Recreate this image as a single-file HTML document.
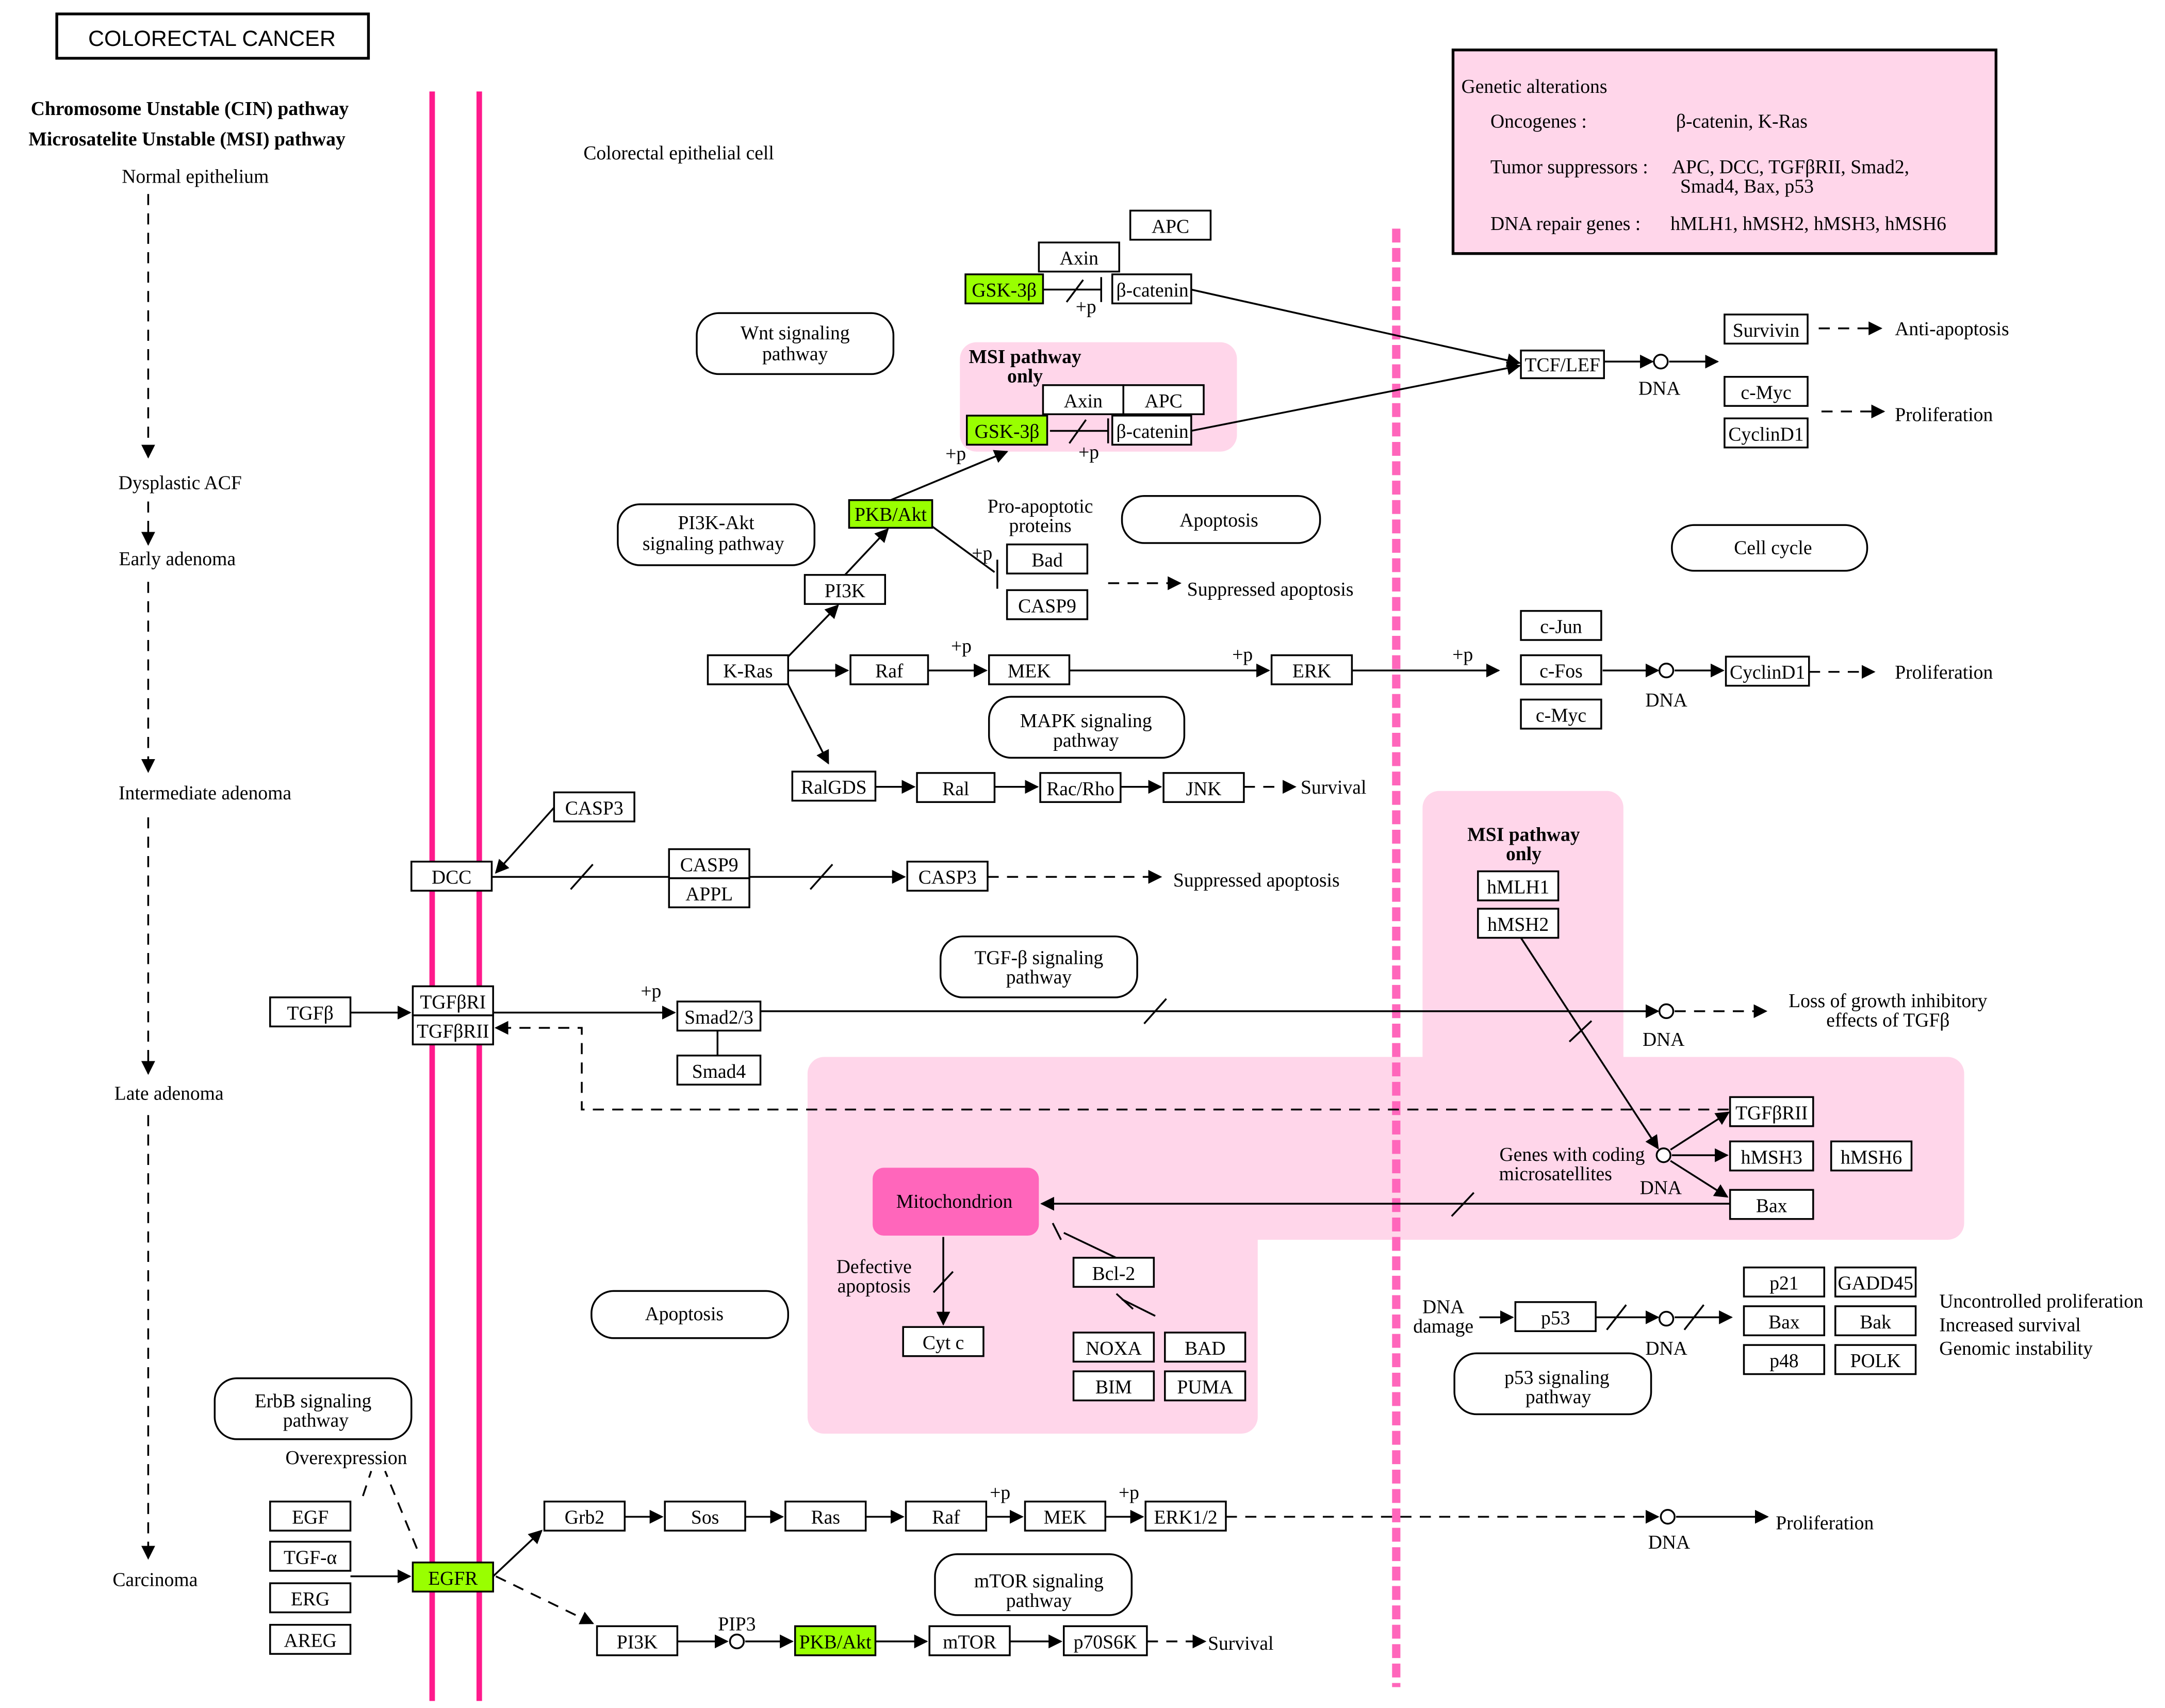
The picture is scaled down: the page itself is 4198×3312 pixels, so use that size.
<!DOCTYPE html>
<html><head><meta charset="utf-8"><style>
html,body{margin:0;padding:0;background:#fff;}
svg{display:block;}
text{font-family:"Liberation Serif",serif;font-size:14px;fill:#000;}
.b rect{fill:#fff;stroke:#000;stroke-width:1.3;}
.g{fill:#99ff00 !important;}
.r{fill:#fff;stroke:#000;stroke-width:1.3;}
.l{stroke:#000;stroke-width:1.3;fill:none;}
.d{stroke:#000;stroke-width:1.3;fill:none;stroke-dasharray:8,6;}
</style></head><body>
<svg width="4198" height="3312" viewBox="0 0 1563 1233" xmlns="http://www.w3.org/2000/svg">
<defs>
<marker id="a" markerWidth="10" markerHeight="10" refX="9" refY="5" orient="auto" markerUnits="userSpaceOnUse"><path d="M0,0 L10,5 L0,10 z" fill="#000"/></marker>
</defs>
<rect width="1563" height="1233" fill="#fff"/>
<!-- pink regions -->
<g fill="#ffd6ea">
<rect x="693" y="247" width="200" height="79" rx="12"/>
<rect x="1027" y="571" width="145" height="210" rx="12"/>
<rect x="583" y="763" width="835" height="132" rx="12"/>
<rect x="583" y="850" width="325" height="185" rx="12"/>
</g>
<rect x="1049" y="36" width="392" height="147" fill="#ffd6ea" stroke="#000" stroke-width="2"/>
<text x="1055" y="67">Genetic alterations</text>
<text x="1076" y="92">Oncogenes :</text><text x="1210" y="92">β-catenin, K-Ras</text>
<text x="1076" y="125">Tumor suppressors :</text><text x="1207" y="125">APC, DCC, TGFβRII, Smad2,</text><text x="1213" y="139">Smad4, Bax, p53</text>
<text x="1076" y="166">DNA repair genes :</text><text x="1206" y="166">hMLH1, hMSH2, hMSH3, hMSH6</text>
<!-- membranes -->
<line x1="312" y1="66" x2="312" y2="1228" stroke="#ff1a8c" stroke-width="4"/>
<line x1="346" y1="66" x2="346" y2="1228" stroke="#ff1a8c" stroke-width="4"/>
<line x1="1008" y1="165" x2="1008" y2="1218" stroke="#ff66bb" stroke-width="6" stroke-dasharray="10,4"/>
<!-- title -->
<rect x="41" y="10" width="225" height="32" fill="#fff" stroke="#000" stroke-width="2"/>
<text x="153" y="33" text-anchor="middle" style="font-family:'Liberation Sans',sans-serif;font-size:16px">COLORECTAL CANCER</text>
<text x="137" y="83" text-anchor="middle" font-weight="bold">Chromosome Unstable (CIN) pathway</text>
<text x="135" y="105" text-anchor="middle" font-weight="bold">Microsatelite Unstable (MSI) pathway</text>
<text x="141" y="132" text-anchor="middle">Normal epithelium</text>
<text x="130" y="353" text-anchor="middle">Dysplastic ACF</text>
<text x="128" y="408" text-anchor="middle">Early adenoma</text>
<text x="148" y="577" text-anchor="middle">Intermediate adenoma</text>
<text x="122" y="794" text-anchor="middle">Late adenoma</text>
<text x="112" y="1145" text-anchor="middle">Carcinoma</text>
<text x="490" y="115" text-anchor="middle">Colorectal epithelial cell</text>
<g class="d" marker-end="url(#a)">
<line x1="107" y1="140" x2="107" y2="330"/>
<line x1="107" y1="362" x2="107" y2="393"/>
<line x1="107" y1="420" x2="107" y2="557"/>
<line x1="107" y1="590" x2="107" y2="775"/>
<line x1="107" y1="805" x2="107" y2="1125"/>
</g>
<!-- pathway rounded -->
<g>
<rect class="r" x="503" y="226" width="142" height="44" rx="16"/><text x="574" y="245" text-anchor="middle">Wnt signaling</text><text x="574" y="260" text-anchor="middle">pathway</text>
<rect class="r" x="446" y="364" width="142" height="44" rx="16"/><text x="517" y="382" text-anchor="middle">PI3K-Akt</text><text x="515" y="397" text-anchor="middle">signaling pathway</text>
<rect class="r" x="810" y="358" width="143" height="34" rx="16"/><text x="880" y="380" text-anchor="middle">Apoptosis</text>
<rect class="r" x="1207" y="379" width="141" height="33" rx="16"/><text x="1280" y="400" text-anchor="middle">Cell cycle</text>
<rect class="r" x="714" y="503" width="141" height="44" rx="16"/><text x="784" y="525" text-anchor="middle">MAPK signaling</text><text x="784" y="539" text-anchor="middle">pathway</text>
<rect class="r" x="679" y="676" width="142" height="44" rx="16"/><text x="750" y="696" text-anchor="middle">TGF-β signaling</text><text x="750" y="710" text-anchor="middle">pathway</text>
<rect class="r" x="427" y="932" width="142" height="34" rx="16"/><text x="494" y="953" text-anchor="middle">Apoptosis</text>
<rect class="r" x="1050" y="977" width="142" height="44" rx="16"/><text x="1124" y="999" text-anchor="middle">p53 signaling</text><text x="1125" y="1013" text-anchor="middle">pathway</text>
<rect class="r" x="155" y="995" width="142" height="44" rx="16"/><text x="226" y="1016" text-anchor="middle">ErbB signaling</text><text x="228" y="1030" text-anchor="middle">pathway</text>
<rect class="r" x="675" y="1122" width="142" height="44" rx="16"/><text x="750" y="1146" text-anchor="middle">mTOR signaling</text><text x="750" y="1160" text-anchor="middle">pathway</text>
</g>
<rect x="630" y="843" width="120" height="49" rx="8" fill="#ff66bb"/>
<text x="689" y="872" text-anchor="middle">Mitochondrion</text>
<!-- edges -->
<g class="l" marker-end="url(#a)">
<line x1="860" y1="209" x2="1097" y2="262"/>
<line x1="860" y1="311" x2="1097" y2="264"/>
<line x1="1158" y1="261" x2="1193" y2="261"/>
<line x1="1205" y1="261" x2="1240" y2="261"/>
<line x1="643" y1="361" x2="727" y2="326"/>
<line x1="610" y1="415" x2="641" y2="382"/>
<line x1="569" y1="474" x2="605" y2="437"/>
<line x1="569" y1="484" x2="612" y2="484"/>
<line x1="670" y1="484" x2="712" y2="484"/>
<line x1="772" y1="484" x2="916" y2="484"/>
<line x1="976" y1="484" x2="1082" y2="484"/>
<line x1="1157" y1="484" x2="1197" y2="484"/>
<line x1="1209" y1="484" x2="1244" y2="484"/>
<line x1="569" y1="494" x2="598" y2="551"/>
<line x1="632" y1="568" x2="660" y2="568"/>
<line x1="718" y1="568" x2="749" y2="568"/>
<line x1="809" y1="568" x2="838" y2="568"/>
<line x1="400" y1="583" x2="358" y2="630"/>
<line x1="355" y1="633" x2="653" y2="633"/>
<line x1="253" y1="731" x2="296" y2="731"/>
<line x1="356" y1="731" x2="487" y2="731"/>
<line x1="549" y1="730" x2="1197" y2="730"/>
<line x1="1098" y1="677" x2="1197" y2="829"/>
<line x1="1206" y1="830" x2="1248" y2="803"/>
<line x1="1207" y1="834" x2="1247" y2="834"/>
<line x1="1206" y1="838" x2="1247" y2="864"/>
<line x1="1249" y1="869" x2="752" y2="869"/>
<line x1="681" y1="893" x2="681" y2="956"/>
<line x1="1068" y1="951" x2="1092" y2="951"/>
<line x1="1152" y1="951" x2="1197" y2="951"/>
<line x1="1209" y1="951" x2="1250" y2="951"/>
<line x1="253" y1="1138" x2="296" y2="1138"/>
<line x1="356" y1="1138" x2="391" y2="1105"/>
<line x1="451" y1="1095" x2="478" y2="1095"/>
<line x1="538" y1="1095" x2="565" y2="1095"/>
<line x1="625" y1="1095" x2="652" y2="1095"/>
<line x1="712" y1="1095" x2="738" y2="1095"/>
<line x1="798" y1="1095" x2="825" y2="1095"/>
<line x1="1210" y1="1095" x2="1276" y2="1095"/>
<line x1="489" y1="1185" x2="525" y2="1185"/>
<line x1="538" y1="1185" x2="572" y2="1185"/>
<line x1="632" y1="1185" x2="669" y2="1185"/>
<line x1="729" y1="1185" x2="766" y2="1185"/>
</g>
<g class="d" marker-end="url(#a)">
<line x1="1313" y1="237" x2="1358" y2="237"/>
<line x1="1315" y1="297" x2="1360" y2="297"/>
<line x1="800" y1="421" x2="852" y2="421"/>
<line x1="1306" y1="485" x2="1353" y2="485"/>
<line x1="898" y1="568" x2="935" y2="568"/>
<line x1="713" y1="633" x2="838" y2="633"/>
<line x1="1209" y1="730" x2="1275" y2="730"/>
<line x1="885" y1="1095" x2="1197" y2="1095"/>
<line x1="828" y1="1185" x2="870" y2="1185"/>
<polyline points="1248,801 420,801 420,742 358,742"/>
<line x1="358" y1="1138" x2="428" y2="1172"/>
</g>
<g class="d"><line x1="301" y1="1118" x2="278" y2="1062"/><line x1="262" y1="1080" x2="268" y2="1062"/></g>
<!-- inhibition & slashes -->
<g class="l">
<line x1="753" y1="209" x2="795" y2="209"/><line x1="795" y1="200" x2="795" y2="218"/><line x1="770" y1="218" x2="782" y2="202"/>
<line x1="758" y1="311" x2="800" y2="311"/><line x1="800" y1="302" x2="800" y2="320"/><line x1="772" y1="320" x2="784" y2="303"/>
<line x1="673" y1="380" x2="718" y2="413"/><line x1="720" y1="404" x2="720" y2="425"/>
<line x1="518" y1="744" x2="518" y2="762"/>
<line x1="810" y1="938" x2="834" y2="950"/><line x1="806" y1="934" x2="818" y2="945"/>
<line x1="810" y1="910" x2="768" y2="890"/><line x1="760" y1="883" x2="766" y2="895"/>
<line x1="412" y1="642" x2="428" y2="624"/><line x1="585" y1="642" x2="601" y2="624"/>
<line x1="826" y1="739" x2="842" y2="721"/><line x1="1133" y1="752" x2="1149" y2="737"/>
<line x1="1048" y1="878" x2="1064" y2="861"/><line x1="674" y1="933" x2="688" y2="918"/>
<line x1="1160" y1="960" x2="1174" y2="942"/><line x1="1216" y1="960" x2="1230" y2="942"/>
</g>
<g fill="#fff" stroke="#000" stroke-width="1.3">
<circle cx="1199" cy="261" r="5"/><circle cx="1203" cy="484" r="5"/><circle cx="1203" cy="730" r="5"/><circle cx="1201" cy="834" r="5"/><circle cx="1203" cy="952" r="5"/><circle cx="1204" cy="1095" r="5"/><circle cx="532" cy="1185" r="5"/>
</g>
<!-- boxes -->
<g class="b">
<rect x="816" y="152" width="58" height="21"/><rect x="750" y="175" width="58" height="21"/>
<rect class="g" x="697" y="198" width="56" height="21"/><rect x="803" y="198" width="57" height="21"/>
<rect x="753" y="278" width="58" height="21"/><rect x="811" y="278" width="58" height="21"/>
<rect class="g" x="698" y="300" width="58" height="21"/><rect x="803" y="300" width="57" height="21"/>
<rect x="1098" y="253" width="60" height="20"/>
<rect x="1245" y="227" width="60" height="21"/><rect x="1245" y="272" width="60" height="21"/><rect x="1245" y="302" width="60" height="21"/>
<rect class="g" x="613" y="361" width="60" height="20"/>
<rect x="727" y="393" width="58" height="21"/><rect x="727" y="426" width="58" height="21"/>
<rect x="581" y="415" width="58" height="21"/>
<rect x="511" y="473" width="58" height="21"/><rect x="614" y="473" width="56" height="21"/><rect x="714" y="473" width="58" height="21"/><rect x="918" y="473" width="58" height="21"/>
<rect x="1098" y="441" width="58" height="21"/><rect x="1098" y="473" width="58" height="21"/><rect x="1098" y="505" width="58" height="21"/>
<rect x="1246" y="474" width="60" height="21"/>
<rect x="572" y="557" width="60" height="21"/><rect x="662" y="558" width="56" height="21"/><rect x="751" y="558" width="58" height="21"/><rect x="840" y="558" width="58" height="21"/>
<rect x="400" y="572" width="58" height="21"/><rect x="297" y="622" width="58" height="21"/>
<rect x="483" y="613" width="58" height="21"/><rect x="483" y="634" width="58" height="21"/><rect x="655" y="622" width="58" height="21"/>
<rect x="1067" y="629" width="58" height="21"/><rect x="1067" y="656" width="58" height="21"/>
<rect x="195" y="720" width="58" height="21"/><rect x="298" y="712" width="58" height="21"/><rect x="298" y="733" width="58" height="21"/>
<rect x="489" y="723" width="60" height="21"/><rect x="489" y="762" width="60" height="21"/>
<rect x="1249" y="792" width="60" height="21"/><rect x="1249" y="824" width="60" height="21"/><rect x="1322" y="824" width="58" height="21"/><rect x="1249" y="859" width="60" height="21"/>
<rect x="775" y="908" width="58" height="21"/><rect x="652" y="958" width="58" height="21"/>
<rect x="775" y="962" width="58" height="21"/><rect x="841" y="962" width="58" height="21"/><rect x="775" y="990" width="58" height="21"/><rect x="841" y="990" width="58" height="21"/>
<rect x="1094" y="940" width="58" height="21"/>
<rect x="1259" y="915" width="58" height="21"/><rect x="1325" y="915" width="58" height="21"/><rect x="1259" y="943" width="58" height="21"/><rect x="1325" y="943" width="58" height="21"/><rect x="1259" y="971" width="58" height="21"/><rect x="1325" y="971" width="58" height="21"/>
<rect x="195" y="1084" width="58" height="21"/><rect x="195" y="1113" width="58" height="21"/><rect x="195" y="1143" width="58" height="21"/><rect x="195" y="1173" width="58" height="21"/>
<rect class="g" x="298" y="1128" width="58" height="21"/>
<rect x="393" y="1084" width="58" height="21"/><rect x="480" y="1084" width="58" height="21"/><rect x="567" y="1084" width="58" height="21"/><rect x="654" y="1084" width="58" height="21"/><rect x="740" y="1084" width="58" height="21"/><rect x="827" y="1084" width="58" height="21"/>
<rect x="431" y="1174" width="58" height="21"/><rect class="g" x="574" y="1174" width="58" height="21"/><rect x="671" y="1174" width="58" height="21"/><rect x="768" y="1174" width="60" height="21"/>
</g>
<!-- box labels -->
<g text-anchor="middle">
<text x="845" y="168">APC</text><text x="779" y="191">Axin</text><text x="725" y="214">GSK-3β</text><text x="832" y="214">β-catenin</text>
<text x="782" y="294">Axin</text><text x="840" y="294">APC</text><text x="727" y="316">GSK-3β</text><text x="832" y="316">β-catenin</text>
<text x="1128" y="268">TCF/LEF</text><text x="1275" y="243">Survivin</text><text x="1275" y="288">c-Myc</text><text x="1275" y="318">CyclinD1</text>
<text x="643" y="376">PKB/Akt</text><text x="756" y="409">Bad</text><text x="756" y="442">CASP9</text><text x="610" y="431">PI3K</text>
<text x="540" y="489">K-Ras</text><text x="642" y="489">Raf</text><text x="743" y="489">MEK</text><text x="947" y="489">ERK</text>
<text x="1127" y="457">c-Jun</text><text x="1127" y="489">c-Fos</text><text x="1127" y="521">c-Myc</text><text x="1276" y="490">CyclinD1</text>
<text x="602" y="573">RalGDS</text><text x="690" y="574">Ral</text><text x="780" y="574">Rac/Rho</text><text x="869" y="574">JNK</text>
<text x="429" y="588">CASP3</text><text x="326" y="638">DCC</text><text x="512" y="629">CASP9</text><text x="512" y="650">APPL</text><text x="684" y="638">CASP3</text>
<text x="1096" y="645">hMLH1</text><text x="1096" y="672">hMSH2</text>
<text x="224" y="736">TGFβ</text><text x="327" y="728">TGFβRI</text><text x="327" y="749">TGFβRII</text>
<text x="519" y="739">Smad2/3</text><text x="519" y="778">Smad4</text>
<text x="1279" y="808">TGFβRII</text><text x="1279" y="840">hMSH3</text><text x="1351" y="840">hMSH6</text><text x="1279" y="875">Bax</text>
<text x="804" y="924">Bcl-2</text><text x="681" y="974">Cyt c</text>
<text x="804" y="978">NOXA</text><text x="870" y="978">BAD</text><text x="804" y="1006">BIM</text><text x="870" y="1006">PUMA</text>
<text x="1123" y="956">p53</text>
<text x="1288" y="931">p21</text><text x="1354" y="931">GADD45</text><text x="1288" y="959">Bax</text><text x="1354" y="959">Bak</text><text x="1288" y="987">p48</text><text x="1354" y="987">POLK</text>
<text x="224" y="1100">EGF</text><text x="224" y="1129">TGF-α</text><text x="224" y="1159">ERG</text><text x="224" y="1189">AREG</text>
<text x="327" y="1144">EGFR</text>
<text x="422" y="1100">Grb2</text><text x="509" y="1100">Sos</text><text x="596" y="1100">Ras</text><text x="683" y="1100">Raf</text><text x="769" y="1100">MEK</text><text x="856" y="1100">ERK1/2</text>
<text x="460" y="1190">PI3K</text><text x="603" y="1190">PKB/Akt</text><text x="700" y="1190">mTOR</text><text x="798" y="1190">p70S6K</text>
</g>
<!-- free labels -->
<g text-anchor="middle">
<text x="740" y="262" font-weight="bold">MSI pathway</text><text x="740" y="276" font-weight="bold">only</text>
<text x="1100" y="607" font-weight="bold">MSI pathway</text><text x="1100" y="621" font-weight="bold">only</text>
<text x="1198" y="285">DNA</text><text x="1203" y="510">DNA</text><text x="1201" y="755">DNA</text><text x="1199" y="862">DNA</text><text x="1203" y="978">DNA</text><text x="1205" y="1118">DNA</text>
<text x="751" y="370">Pro-apoptotic</text><text x="751" y="384">proteins</text>
<text x="1135" y="838">Genes with coding</text><text x="1123" y="852">microsatellites</text>
<text x="631" y="919">Defective</text><text x="631" y="933">apoptosis</text>
<text x="1042" y="948">DNA</text><text x="1042" y="962">damage</text>
<text x="250" y="1057">Overexpression</text>
<text x="532" y="1177">PIP3</text>
<text x="1363" y="727">Loss of growth inhibitory</text><text x="1363" y="741">effects of TGFβ</text>
<text x="784" y="226">+p</text><text x="690" y="332">+p</text><text x="786" y="331">+p</text><text x="709" y="404">+p</text>
<text x="694" y="471">+p</text><text x="897" y="477">+p</text><text x="1056" y="477">+p</text><text x="470" y="720">+p</text>
<text x="722" y="1082">+p</text><text x="815" y="1082">+p</text>
</g>
<text x="1368" y="242">Anti-apoptosis</text>
<text x="1368" y="304">Proliferation</text>
<text x="857" y="430">Suppressed apoptosis</text>
<text x="1368" y="490">Proliferation</text>
<text x="939" y="573">Survival</text>
<text x="847" y="640">Suppressed apoptosis</text>
<text x="1400" y="944">Uncontrolled proliferation</text>
<text x="1400" y="961">Increased survival</text>
<text x="1400" y="978">Genomic instability</text>
<text x="1282" y="1104">Proliferation</text>
<text x="872" y="1191">Survival</text>
</svg>
</body></html>
